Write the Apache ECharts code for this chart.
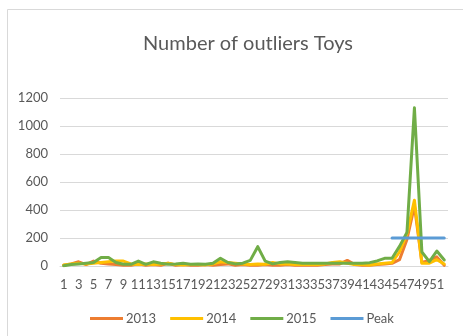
<!DOCTYPE html>
<html>
<head>
<meta charset="utf-8">
<script src="https://cdn.jsdelivr.net/npm/echarts@6/dist/echarts.min.js"></script>
<style>
  html, body { margin: 0; padding: 0; background: #fff; }
  #chart { width: 463px; height: 336px; }
</style>
</head>
<body>
<div id="chart"></div>
<script>
// Weekly counts of outliers for the Toys category
const weeks = Array.from({ length: 52 }, (_, i) => String(i + 1));

const y2013 = [5, 15, 30, 10, 35, 20, 15, 10, 5, 5, 15, 5, 10, 5, 20, 5, 10, 5, 5, 10,
  5, 10, 15, 5, 10, 5, 5, 10, 5, 5, 10, 5, 5, 5, 5, 10, 15, 15, 40, 10,
  5, 5, 10, 14, 19, 45, 190, 430, 25, 40, 65, 5];

const y2014 = [8, 15, 20, 15, 20, 25, 30, 35, 35, 15, 10, 15, 10, 15, 20, 10, 8, 10, 10, 8,
  15, 30, 25, 20, 15, 10, 15, 12, 25, 15, 15, 10, 12, 10, 10, 15, 25, 30, 20, 10,
  10, 7, 14, 19, 25, 100, 230, 470, 20, 20, 45, 14];

const y2015 = [2, 10, 15, 20, 25, 60, 60, 25, 12, 12, 35, 12, 30, 20, 12, 15, 20, 12, 15, 12,
  20, 55, 25, 15, 20, 40, 138, 35, 15, 25, 30, 25, 20, 20, 20, 20, 20, 20, 20, 20,
  20, 24, 36, 55, 55, 140, 240, 1130, 100, 31, 107, 43];

// Peak threshold, drawn only over the final weeks
const peak = [null, null, null, null, null, null, null, null, null, null,
  null, null, null, null, null, null, null, null, null, null,
  null, null, null, null, null, null, null, null, null, null,
  null, null, null, null, null, null, null, null, null, null,
  null, null, null, null, 200, 200, 200, 200, 200, 200, 200, 200];

const yTicks = { min: 0, max: 1200, step: 200 };

const FONT = 'Lato, "Open Sans", sans-serif';
const TEXT = '#595959';

const chart = echarts.init(document.getElementById('chart'));

function lineSeries(name, data, color) {
  return {
    name, type: 'line', data,
    showSymbol: false, symbol: 'none',
    lineStyle: { color, width: 3, cap: 'round', join: 'round' },
    itemStyle: { color },
    emphasis: { disabled: true },
    z: 2
  };
}

chart.setOption({
  animation: false,
  textStyle: { fontFamily: FONT },
  graphic: [
    {
      type: 'rect', silent: true, z: -1,
      shape: { x: 7.5, y: 9.5, width: 480, height: 340 },
      style: { fill: '#fff', stroke: '#D9D9D9', lineWidth: 1 }
    },
    {
      type: 'text', silent: true,
      style: {
        text: 'Number of outliers Toys', x: 248, y: 44,
        align: 'center', verticalAlign: 'middle',
        font: '20px ' + FONT, fill: TEXT
      }
    }
  ],
  legend: {
    left: 85, top: 307,
    icon: 'rect', itemWidth: 33, itemHeight: 3, itemGap: 14,
    textStyle: { color: TEXT, fontSize: 13, fontFamily: FONT, padding: [0, 0, 0, -2] },
    data: ['2013', '2014', '2015', 'Peak']
  },
  grid: { left: 60, right: 15, top: 98, bottom: 70, outerBoundsMode: 'none' },
  xAxis: {
    type: 'category', data: weeks, boundaryGap: true,
    axisLine: { show: true, lineStyle: { color: '#D9D9D9', width: 1 } },
    axisTick: { show: false },
    axisLabel: { interval: 1, color: TEXT, fontSize: 13, margin: 12, hideOverlap: false }
  },
  yAxis: {
    type: 'value', min: yTicks.min, max: yTicks.max, interval: yTicks.step,
    axisLine: { show: false }, axisTick: { show: false },
    axisLabel: { color: TEXT, fontSize: 13, margin: 12, formatter: v => String(v) },
    splitLine: { lineStyle: { color: '#D9D9D9', width: 1 } }
  },
  series: [
    lineSeries('2013', y2013, '#ED7D31'),
    lineSeries('2014', y2014, '#FFC000'),
    lineSeries('2015', y2015, '#70AD47'),
    lineSeries('Peak', peak, '#5B9BD5')
  ]
});
</script>
</body>
</html>
